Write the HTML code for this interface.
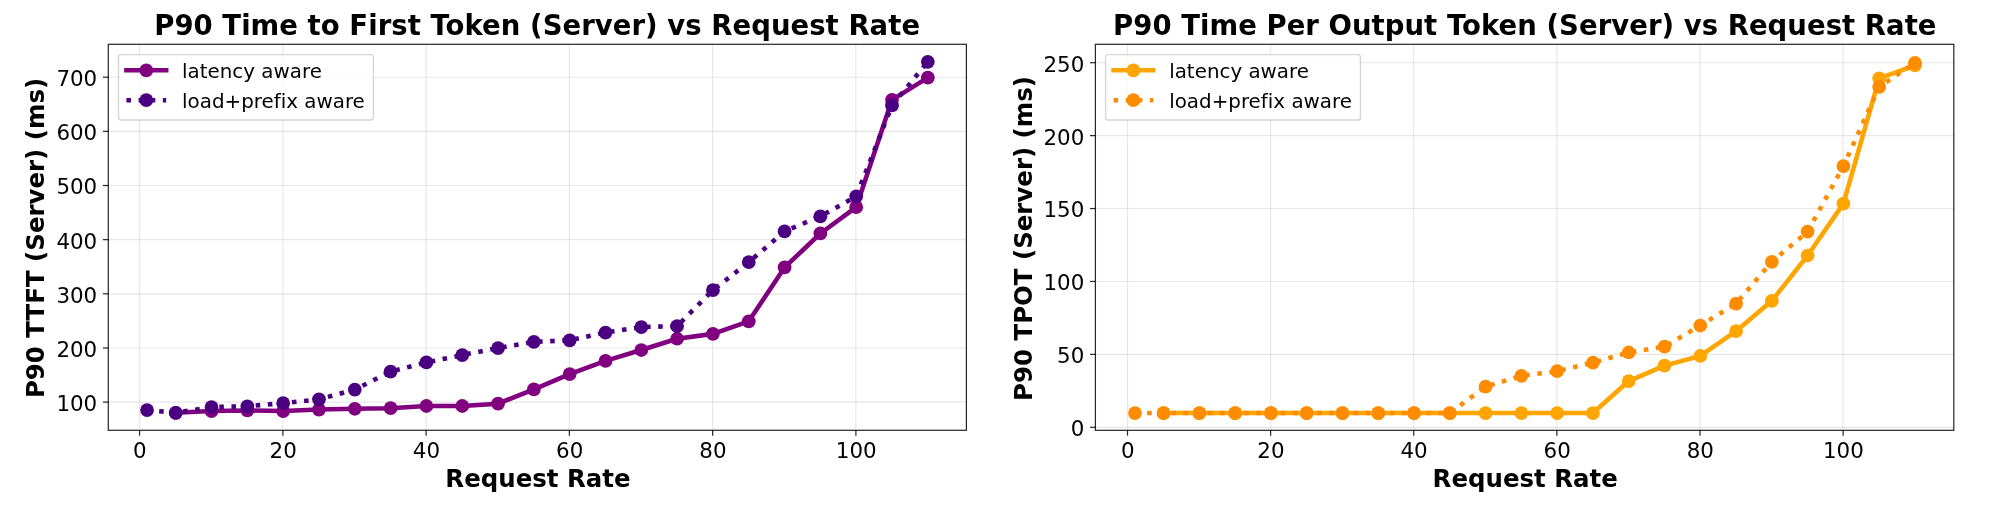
<!DOCTYPE html>
<html lang="en">
<head>
<meta charset="utf-8">
<title>P90 latency vs Request Rate</title>
<style>
html,body{margin:0;padding:0;background:#fff;}
body{width:1999px;height:515px;overflow:hidden;}
svg{display:block;font-family:"DejaVu Sans","Liberation Sans",sans-serif;font-variant-ligatures:none;}
.grid line{stroke:#b0b0b0;stroke-opacity:.3;stroke-width:1.15;}
.spine{fill:none;stroke:#000;stroke-opacity:.85;stroke-width:1.22;}
.tick line{stroke:#000;stroke-opacity:.85;stroke-width:1.22;}
.tl text{font-size:21.39px;fill:#000;}
.title{font-size:27.5px;font-weight:bold;fill:#000;letter-spacing:.04px;}
.lab{font-size:24.44px;font-weight:bold;fill:#000;}
.leg{fill:#fff;fill-opacity:.8;stroke:#ccc;stroke-opacity:.8;stroke-width:1.4;}
.lt{font-size:19.86px;fill:#000;}
</style>
</head>
<body>
<svg width="1999" height="515" viewBox="0 0 1999 515">
<defs><filter id="soft" x="0" y="0" width="1999" height="515" filterUnits="userSpaceOnUse" color-interpolation-filters="sRGB"><feGaussianBlur stdDeviation="0.45"/></filter></defs>
<rect width="1999" height="515" fill="#fff"/>
<g filter="url(#soft)">
<rect width="1999" height="515" fill="#fff"/>
<g class="axes">
<g class="grid">
<line x1="139.6" y1="44.3" x2="139.6" y2="430.3"/>
<line x1="282.86" y1="44.3" x2="282.86" y2="430.3"/>
<line x1="426.12" y1="44.3" x2="426.12" y2="430.3"/>
<line x1="569.38" y1="44.3" x2="569.38" y2="430.3"/>
<line x1="712.64" y1="44.3" x2="712.64" y2="430.3"/>
<line x1="855.9" y1="44.3" x2="855.9" y2="430.3"/>
<line x1="108.3" y1="402.1" x2="966.4" y2="402.1"/>
<line x1="108.3" y1="347.95" x2="966.4" y2="347.95"/>
<line x1="108.3" y1="293.8" x2="966.4" y2="293.8"/>
<line x1="108.3" y1="239.65" x2="966.4" y2="239.65"/>
<line x1="108.3" y1="185.5" x2="966.4" y2="185.5"/>
<line x1="108.3" y1="131.35" x2="966.4" y2="131.35"/>
<line x1="108.3" y1="77.2" x2="966.4" y2="77.2"/>
</g>
<polyline points="175.72,412.77 211.53,411.03 247.35,410.44 283.16,411.03 318.98,409.52 354.79,408.76 390.61,408.22 426.42,406 462.24,406 498.05,403.67 533.87,389.27 569.68,374.1 605.5,360.89 641.31,350.01 677.12,338.74 712.94,333.87 748.75,321.31 784.57,267.43 820.38,233.48 856.2,207.16 892.01,99.83 927.83,77.63" fill="none" stroke="#800080" stroke-width="4.58" stroke-linejoin="round"/>
<g fill="#800080"><circle cx="175.72" cy="412.77" r="6.88"/><circle cx="211.53" cy="411.03" r="6.88"/><circle cx="247.35" cy="410.44" r="6.88"/><circle cx="283.16" cy="411.03" r="6.88"/><circle cx="318.98" cy="409.52" r="6.88"/><circle cx="354.79" cy="408.76" r="6.88"/><circle cx="390.61" cy="408.22" r="6.88"/><circle cx="426.42" cy="406" r="6.88"/><circle cx="462.24" cy="406" r="6.88"/><circle cx="498.05" cy="403.67" r="6.88"/><circle cx="533.87" cy="389.27" r="6.88"/><circle cx="569.68" cy="374.1" r="6.88"/><circle cx="605.5" cy="360.89" r="6.88"/><circle cx="641.31" cy="350.01" r="6.88"/><circle cx="677.12" cy="338.74" r="6.88"/><circle cx="712.94" cy="333.87" r="6.88"/><circle cx="748.75" cy="321.31" r="6.88"/><circle cx="784.57" cy="267.43" r="6.88"/><circle cx="820.38" cy="233.48" r="6.88"/><circle cx="856.2" cy="207.16" r="6.88"/><circle cx="892.01" cy="99.83" r="6.88"/><circle cx="927.83" cy="77.63" r="6.88"/></g>
<polyline points="147.06,410.06 175.72,412.77 211.53,407.03 247.35,406.27 283.16,403.18 318.98,399.34 354.79,389.59 390.61,371.61 426.42,362.46 462.24,355.04 498.05,348.06 533.87,341.83 569.68,340.31 605.5,332.52 641.31,327.1 677.12,326.02 712.94,290.17 748.75,262.18 784.57,231.42 820.38,216.37 856.2,196.33 892.01,105.41 927.83,61.77" fill="none" stroke="#4b0082" stroke-width="4.58" stroke-linejoin="round" stroke-dasharray="4.58 7.56"/>
<g fill="#4b0082"><circle cx="147.06" cy="410.06" r="6.88"/><circle cx="175.72" cy="412.77" r="6.88"/><circle cx="211.53" cy="407.03" r="6.88"/><circle cx="247.35" cy="406.27" r="6.88"/><circle cx="283.16" cy="403.18" r="6.88"/><circle cx="318.98" cy="399.34" r="6.88"/><circle cx="354.79" cy="389.59" r="6.88"/><circle cx="390.61" cy="371.61" r="6.88"/><circle cx="426.42" cy="362.46" r="6.88"/><circle cx="462.24" cy="355.04" r="6.88"/><circle cx="498.05" cy="348.06" r="6.88"/><circle cx="533.87" cy="341.83" r="6.88"/><circle cx="569.68" cy="340.31" r="6.88"/><circle cx="605.5" cy="332.52" r="6.88"/><circle cx="641.31" cy="327.1" r="6.88"/><circle cx="677.12" cy="326.02" r="6.88"/><circle cx="712.94" cy="290.17" r="6.88"/><circle cx="748.75" cy="262.18" r="6.88"/><circle cx="784.57" cy="231.42" r="6.88"/><circle cx="820.38" cy="216.37" r="6.88"/><circle cx="856.2" cy="196.33" r="6.88"/><circle cx="892.01" cy="105.41" r="6.88"/><circle cx="927.83" cy="61.77" r="6.88"/></g>
<rect class="spine" x="108.3" y="44.3" width="858.1" height="386"/>
<g class="tick">
<line x1="139.6" y1="430.3" x2="139.6" y2="435.65"/>
<line x1="282.86" y1="430.3" x2="282.86" y2="435.65"/>
<line x1="426.12" y1="430.3" x2="426.12" y2="435.65"/>
<line x1="569.38" y1="430.3" x2="569.38" y2="435.65"/>
<line x1="712.64" y1="430.3" x2="712.64" y2="435.65"/>
<line x1="855.9" y1="430.3" x2="855.9" y2="435.65"/>
<line x1="102.95" y1="402.1" x2="108.3" y2="402.1"/>
<line x1="102.95" y1="347.95" x2="108.3" y2="347.95"/>
<line x1="102.95" y1="293.8" x2="108.3" y2="293.8"/>
<line x1="102.95" y1="239.65" x2="108.3" y2="239.65"/>
<line x1="102.95" y1="185.5" x2="108.3" y2="185.5"/>
<line x1="102.95" y1="131.35" x2="108.3" y2="131.35"/>
<line x1="102.95" y1="77.2" x2="108.3" y2="77.2"/>
</g>
<g class="tl" text-anchor="middle">
<text x="139.9" y="458.4">0</text>
<text x="283.16" y="458.4">20</text>
<text x="426.42" y="458.4">40</text>
<text x="569.68" y="458.4">60</text>
<text x="712.94" y="458.4">80</text>
<text x="856.2" y="458.4">100</text>
</g>
<g class="tl" text-anchor="end">
<text x="97.21" y="411">100</text>
<text x="97.21" y="356.85">200</text>
<text x="97.21" y="302.7">300</text>
<text x="97.21" y="248.55">400</text>
<text x="97.21" y="194.4">500</text>
<text x="97.21" y="140.25">600</text>
<text x="97.21" y="86.1">700</text>
</g>
<text class="title" text-anchor="middle" x="537.15" y="35.2">P90 Time to First Token (Server) vs Request Rate</text>
<text class="lab" text-anchor="middle" x="537.95" y="487.2">Request Rate</text>
<text class="lab" text-anchor="middle" transform="translate(44.4,238) rotate(-90)">P90 TTFT (Server) (ms)</text>
<rect class="leg" x="118.5" y="54.6" width="254.9" height="65.4" rx="2.7"/>
<line x1="126.44" y1="70.3" x2="166.16" y2="70.3" stroke="#800080" stroke-width="4.58" stroke-linecap="square"/>
<circle cx="146.3" cy="70.3" r="6.88" fill="#800080"/>
<line x1="126.44" y1="100.2" x2="166.16" y2="100.2" stroke="#4b0082" stroke-width="4.58" stroke-dasharray="4.58 7.56"/>
<circle cx="146.3" cy="100.2" r="6.88" fill="#4b0082"/>
<text class="lt" x="182.1" y="77.6">latency aware</text>
<text class="lt" x="182.1" y="107.6">load+prefix aware</text>
</g>
<g class="axes">
<g class="grid">
<line x1="1127.5" y1="44.3" x2="1127.5" y2="430.3"/>
<line x1="1270.62" y1="44.3" x2="1270.62" y2="430.3"/>
<line x1="1413.74" y1="44.3" x2="1413.74" y2="430.3"/>
<line x1="1556.86" y1="44.3" x2="1556.86" y2="430.3"/>
<line x1="1699.98" y1="44.3" x2="1699.98" y2="430.3"/>
<line x1="1843.1" y1="44.3" x2="1843.1" y2="430.3"/>
<line x1="1095.4" y1="427.3" x2="1953.8" y2="427.3"/>
<line x1="1095.4" y1="354.38" x2="1953.8" y2="354.38"/>
<line x1="1095.4" y1="281.46" x2="1953.8" y2="281.46"/>
<line x1="1095.4" y1="208.54" x2="1953.8" y2="208.54"/>
<line x1="1095.4" y1="135.62" x2="1953.8" y2="135.62"/>
<line x1="1095.4" y1="62.7" x2="1953.8" y2="62.7"/>
</g>
<polyline points="1163.58,413.02 1199.36,413.02 1235.14,413.02 1270.92,413.02 1306.7,413.02 1342.48,413.02 1378.26,413.02 1414.04,413.02 1449.82,413.02 1485.6,413.02 1521.38,413.02 1557.16,413.02 1592.94,413.02 1628.72,381.08 1664.5,365.62 1700.28,355.99 1736.06,331.2 1771.84,300.87 1807.62,255.51 1843.4,203.59 1879.18,78.31 1914.96,65.48" fill="none" stroke="#ffa500" stroke-width="4.58" stroke-linejoin="round"/>
<g fill="#ffa500"><circle cx="1163.58" cy="413.02" r="6.88"/><circle cx="1199.36" cy="413.02" r="6.88"/><circle cx="1235.14" cy="413.02" r="6.88"/><circle cx="1270.92" cy="413.02" r="6.88"/><circle cx="1306.7" cy="413.02" r="6.88"/><circle cx="1342.48" cy="413.02" r="6.88"/><circle cx="1378.26" cy="413.02" r="6.88"/><circle cx="1414.04" cy="413.02" r="6.88"/><circle cx="1449.82" cy="413.02" r="6.88"/><circle cx="1485.6" cy="413.02" r="6.88"/><circle cx="1521.38" cy="413.02" r="6.88"/><circle cx="1557.16" cy="413.02" r="6.88"/><circle cx="1592.94" cy="413.02" r="6.88"/><circle cx="1628.72" cy="381.08" r="6.88"/><circle cx="1664.5" cy="365.62" r="6.88"/><circle cx="1700.28" cy="355.99" r="6.88"/><circle cx="1736.06" cy="331.2" r="6.88"/><circle cx="1771.84" cy="300.87" r="6.88"/><circle cx="1807.62" cy="255.51" r="6.88"/><circle cx="1843.4" cy="203.59" r="6.88"/><circle cx="1879.18" cy="78.31" r="6.88"/><circle cx="1914.96" cy="65.48" r="6.88"/></g>
<polyline points="1134.96,413.02 1163.58,413.02 1199.36,413.02 1235.14,413.02 1270.92,413.02 1306.7,413.02 1342.48,413.02 1378.26,413.02 1414.04,413.02 1449.82,413.02 1485.6,386.62 1521.38,375.83 1557.16,371.16 1592.94,362.7 1628.72,352.49 1664.5,346.66 1700.28,325.51 1736.06,303.64 1771.84,261.78 1807.62,231.59 1843.4,166.11 1879.18,86.92 1914.96,62.85" fill="none" stroke="#ff8c00" stroke-width="4.58" stroke-linejoin="round" stroke-dasharray="4.58 7.56"/>
<g fill="#ff8c00"><circle cx="1134.96" cy="413.02" r="6.88"/><circle cx="1163.58" cy="413.02" r="6.88"/><circle cx="1199.36" cy="413.02" r="6.88"/><circle cx="1235.14" cy="413.02" r="6.88"/><circle cx="1270.92" cy="413.02" r="6.88"/><circle cx="1306.7" cy="413.02" r="6.88"/><circle cx="1342.48" cy="413.02" r="6.88"/><circle cx="1378.26" cy="413.02" r="6.88"/><circle cx="1414.04" cy="413.02" r="6.88"/><circle cx="1449.82" cy="413.02" r="6.88"/><circle cx="1485.6" cy="386.62" r="6.88"/><circle cx="1521.38" cy="375.83" r="6.88"/><circle cx="1557.16" cy="371.16" r="6.88"/><circle cx="1592.94" cy="362.7" r="6.88"/><circle cx="1628.72" cy="352.49" r="6.88"/><circle cx="1664.5" cy="346.66" r="6.88"/><circle cx="1700.28" cy="325.51" r="6.88"/><circle cx="1736.06" cy="303.64" r="6.88"/><circle cx="1771.84" cy="261.78" r="6.88"/><circle cx="1807.62" cy="231.59" r="6.88"/><circle cx="1843.4" cy="166.11" r="6.88"/><circle cx="1879.18" cy="86.92" r="6.88"/><circle cx="1914.96" cy="62.85" r="6.88"/></g>
<rect class="spine" x="1095.4" y="44.3" width="858.4" height="386"/>
<g class="tick">
<line x1="1127.5" y1="430.3" x2="1127.5" y2="435.65"/>
<line x1="1270.62" y1="430.3" x2="1270.62" y2="435.65"/>
<line x1="1413.74" y1="430.3" x2="1413.74" y2="435.65"/>
<line x1="1556.86" y1="430.3" x2="1556.86" y2="435.65"/>
<line x1="1699.98" y1="430.3" x2="1699.98" y2="435.65"/>
<line x1="1843.1" y1="430.3" x2="1843.1" y2="435.65"/>
<line x1="1090.05" y1="427.3" x2="1095.4" y2="427.3"/>
<line x1="1090.05" y1="354.38" x2="1095.4" y2="354.38"/>
<line x1="1090.05" y1="281.46" x2="1095.4" y2="281.46"/>
<line x1="1090.05" y1="208.54" x2="1095.4" y2="208.54"/>
<line x1="1090.05" y1="135.62" x2="1095.4" y2="135.62"/>
<line x1="1090.05" y1="62.7" x2="1095.4" y2="62.7"/>
</g>
<g class="tl" text-anchor="middle">
<text x="1127.8" y="458.4">0</text>
<text x="1270.92" y="458.4">20</text>
<text x="1414.04" y="458.4">40</text>
<text x="1557.16" y="458.4">60</text>
<text x="1700.28" y="458.4">80</text>
<text x="1843.4" y="458.4">100</text>
</g>
<g class="tl" text-anchor="end">
<text x="1084.31" y="436.2">0</text>
<text x="1084.31" y="363.28">50</text>
<text x="1084.31" y="290.36">100</text>
<text x="1084.31" y="217.44">150</text>
<text x="1084.31" y="144.52">200</text>
<text x="1084.31" y="71.6">250</text>
</g>
<text class="title" text-anchor="middle" x="1524.8" y="35.2">P90 Time Per Output Token (Server) vs Request Rate</text>
<text class="lab" text-anchor="middle" x="1525.2" y="487.2">Request Rate</text>
<text class="lab" text-anchor="middle" transform="translate(1032,238.5) rotate(-90)">P90 TPOT (Server) (ms)</text>
<rect class="leg" x="1105.6" y="54.6" width="254.9" height="65.4" rx="2.7"/>
<line x1="1113.54" y1="70.3" x2="1153.26" y2="70.3" stroke="#ffa500" stroke-width="4.58" stroke-linecap="square"/>
<circle cx="1133.4" cy="70.3" r="6.88" fill="#ffa500"/>
<line x1="1113.54" y1="100.2" x2="1153.26" y2="100.2" stroke="#ff8c00" stroke-width="4.58" stroke-dasharray="4.58 7.56"/>
<circle cx="1133.4" cy="100.2" r="6.88" fill="#ff8c00"/>
<text class="lt" x="1169.2" y="77.6">latency aware</text>
<text class="lt" x="1169.2" y="107.6">load+prefix aware</text>
</g>
</g>
</svg>
</body>
</html>
